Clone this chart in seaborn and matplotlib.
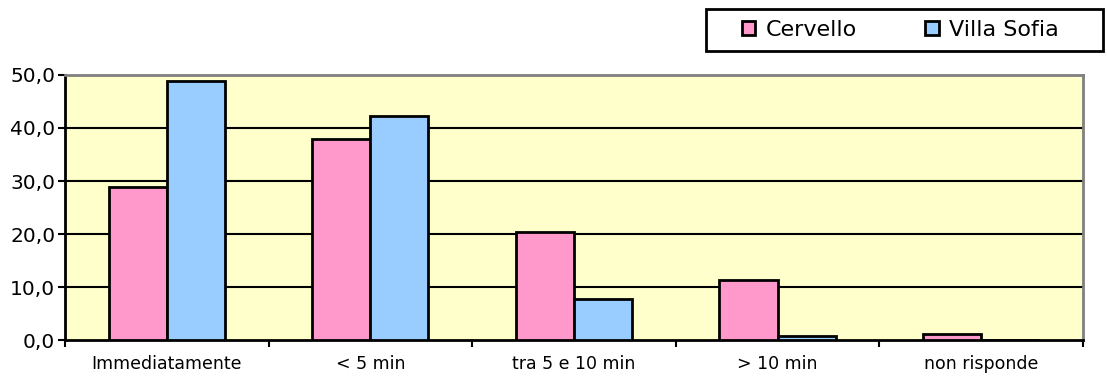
import numpy as np
import pandas as pd
import matplotlib.pyplot as plt
import seaborn as sns
from matplotlib.ticker import FuncFormatter
from matplotlib.patches import Rectangle

sns.set_style('white')
plt.rcParams['font.family'] = ['DejaVu Sans']
plt.rcParams['text.color'] = 'black'
plt.rcParams['xtick.color'] = 'black'
plt.rcParams['ytick.color'] = 'black'

# data
categories = ['Immediatamente', '< 5 min', 'tra 5 e 10 min', '> 10 min', 'non risponde']
cervello = [28.9, 38.0, 20.3, 11.3, 1.1]
villa_sofia = [48.9, 42.2, 7.7, 0.8, 0.0]
series_names = ['Cervello', 'Villa Sofia']
colors = ['#FF99CC', '#99CCFF']

df = pd.DataFrame({
    'cat': categories * 2,
    'val': cervello + villa_sofia,
    'ospedale': [series_names[0]] * 5 + [series_names[1]] * 5,
})

fig = plt.figure(figsize=(11.07, 3.78), dpi=100)
ax = fig.add_axes([0.0587, 0.1005, 0.9195, 0.7011])
ax.set_facecolor('#FFFFCC')

sns.barplot(data=df, x='cat', y='val', hue='ospedale', palette=colors,
            width=0.57, edgecolor='black', linewidth=2, saturation=1,
            ax=ax, legend=True, zorder=3)

ax.set_ylim(0, 50)
ax.set_xlim(-0.5, 4.5)
ax.set_yticks(np.arange(0, 51, 10))
ax.yaxis.set_major_formatter(FuncFormatter(lambda v, p: f'{v:.1f}'.replace('.', ',')))
for yv in range(10, 50, 10):
    ax.axhline(yv, color='black', lw=1.5, zorder=1)

# ticks between categories, labels centred on categories
ax.set_xticks(np.arange(-0.5, 5, 1), minor=False)
ax.set_xticklabels([])
ax.set_xticks(np.arange(0, 5), minor=True)
ax.set_xticklabels(categories, minor=True, fontsize=12.5)
ax.tick_params(axis='x', which='minor', length=0, pad=11)
ax.tick_params(axis='x', which='major', length=5, width=1.5, direction='out', bottom=True)
ax.tick_params(axis='y', length=5, width=1.5, direction='out', left=True, labelsize=14.5, pad=2)

ax.set_xlabel('')
ax.set_ylabel('')
for s in ['left', 'bottom']:
    ax.spines[s].set_color('black')
    ax.spines[s].set_linewidth(2)
for s in ['top', 'right']:
    ax.spines[s].set_color('#808080')
    ax.spines[s].set_linewidth(2)

handles, labels = ax.get_legend_handles_labels()
ax.legend(handles, labels, ncol=2, loc='center left',
          bbox_to_anchor=(742 / 1107, 1 - 30 / 378), bbox_transform=fig.transFigure,
          frameon=False, fontsize=16, handlelength=0.6, handleheight=0.6,
          handletextpad=0.45, columnspacing=3.1, borderpad=0, borderaxespad=0)

# legend box
fig.patches.append(Rectangle((706 / 1107, 1 - 51 / 378), 397 / 1107, 42 / 378,
                             transform=fig.transFigure, fill=False,
                             edgecolor='black', lw=2))

fig.savefig('out.png', dpi=100)
